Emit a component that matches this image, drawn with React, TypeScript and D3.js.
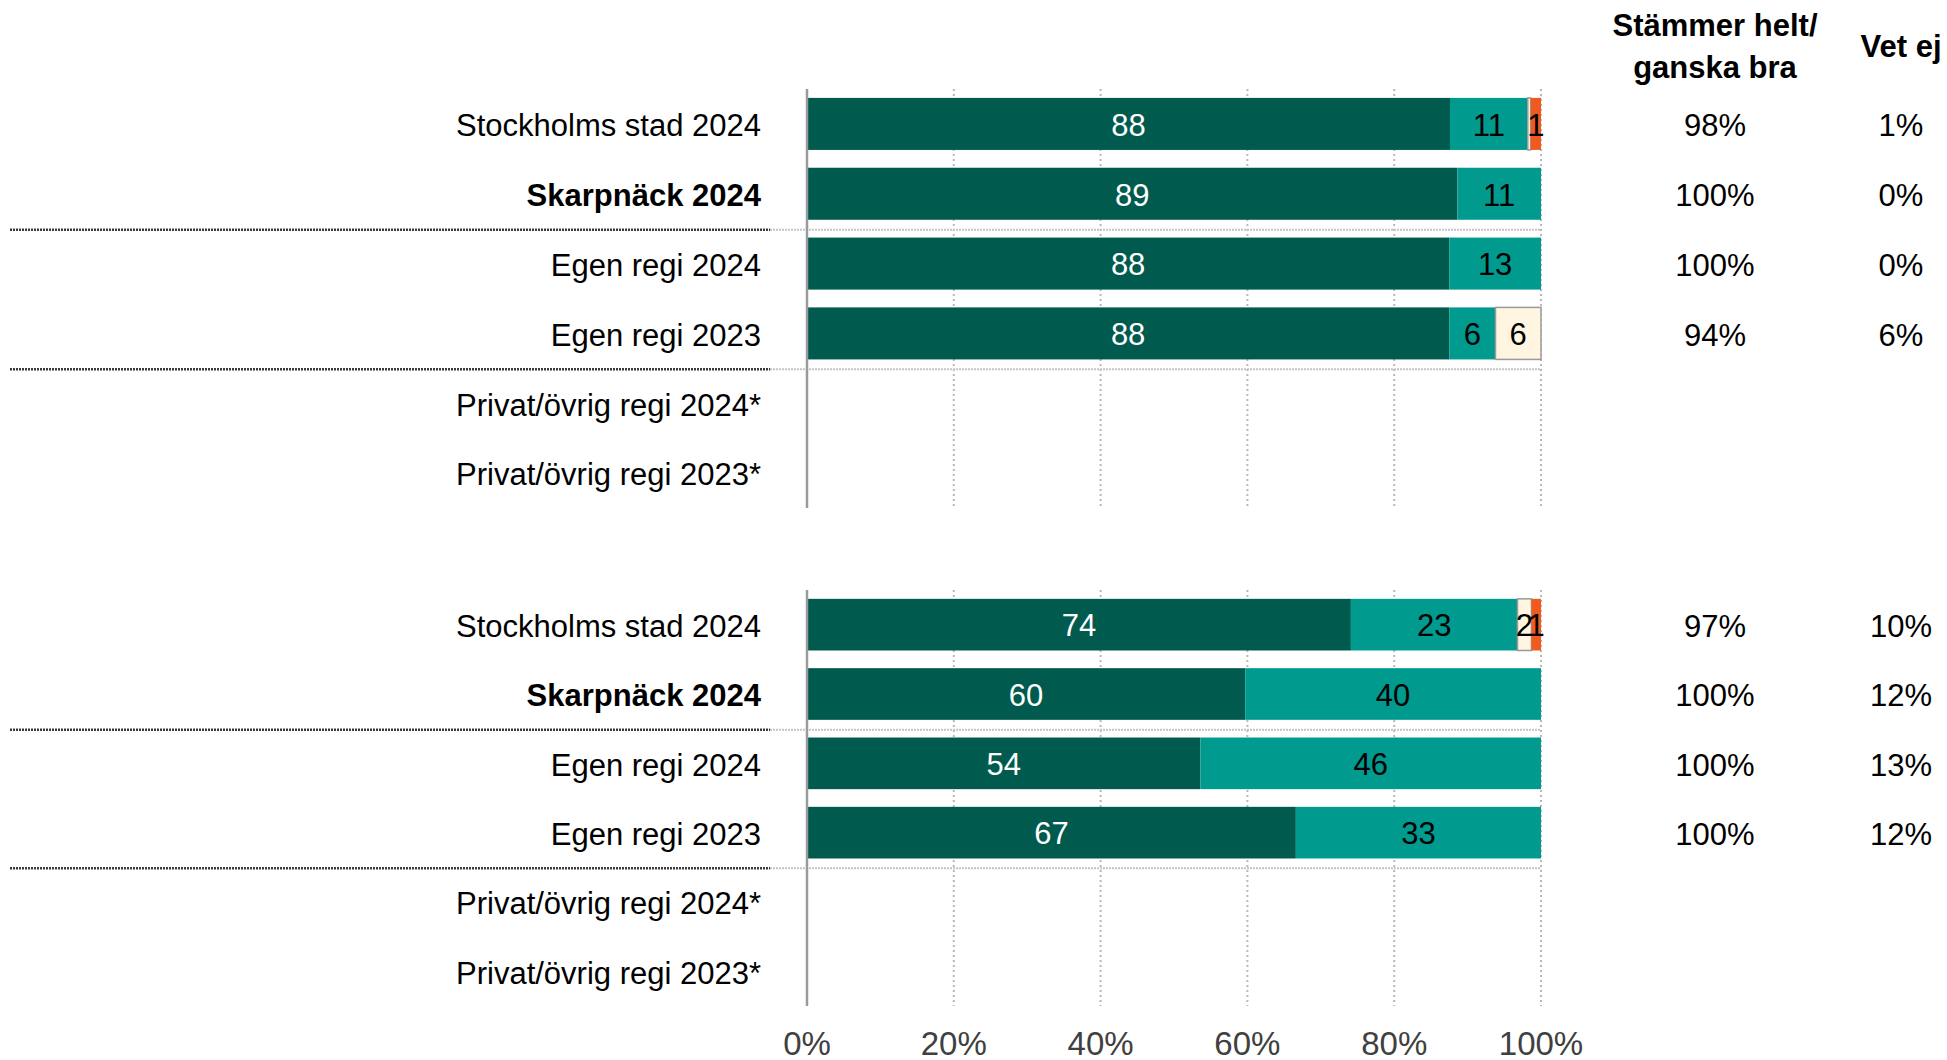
import React from "react";
import * as d3 from "d3";

const rowLabels = [
  "Stockholms stad 2024",
  "Skarpnäck 2024",
  "Egen regi 2024",
  "Egen regi 2023",
  "Privat/övrig regi 2024*",
  "Privat/övrig regi 2023*",
];
const boldRows = ["Skarpnäck 2024"];

// Group 1 values (percent) per category: helt, ganska bra, ganska dåligt, inte alls
const g1Helt = [87.6, 88.6, 87.5, 87.5, null, null];
const g1Ganska = [10.6, 11.4, 12.5, 6.3, null, null];
const g1Daligt = [0.4, 0, 0, 6.2, null, null];
const g1InteAlls = [1.4, 0, 0, 0, null, null];
const g1Stammer = ["98%", "100%", "100%", "94%", "", ""];
const g1VetEj = ["1%", "0%", "0%", "6%", "", ""];

// Group 2
const g2Helt = [74.1, 59.7, 53.6, 66.6, null, null];
const g2Ganska = [22.7, 40.3, 46.4, 33.4, null, null];
const g2Daligt = [1.9, 0, 0, 0, null, null];
const g2InteAlls = [1.3, 0, 0, 0, null, null];
const g2Stammer = ["97%", "100%", "100%", "100%", "", ""];
const g2VetEj = ["10%", "12%", "13%", "12%", "", ""];

const ticks = [0, 20, 40, 60, 80, 100];
const headerStammer = ["Stämmer helt/", "ganska bra"];
const headerVetEj = "Vet ej";

const colors = ["#005A4E", "#009A8E", "#FFF5E1", "#F05A1E"];
const textColors = ["#ffffff", "#000000", "#000000", "#000000"];

const W = 1947;
const H = 1060;
const FONT = "'Liberation Sans', Arial, sans-serif";

const x = d3.scaleLinear().domain([0, 100]).range([807, 1541]);

function Group({
  top,
  bottom,
  series,
  stammer,
  vetej,
}: {
  top: number;
  bottom: number;
  series: (number | null)[][];
  stammer: string[];
  vetej: string[];
}) {
  const pi = 0.255;
  const y = d3
    .scaleBand<string>()
    .domain(rowLabels)
    .range([top, bottom])
    .paddingInner(pi)
    .paddingOuter(pi / 2);
  const step = y.step();
  const bw = y.bandwidth();
  const sepAfter = [1, 3];
  return (
    <g>
      {ticks.slice(1).map((t) => (
        <line
          key={t}
          x1={x(t)}
          x2={x(t)}
          y1={top}
          y2={bottom}
          stroke="#b8b8b8"
          strokeWidth={2}
          strokeDasharray="2,3"
        />
      ))}
      {sepAfter.map((i) => {
        const yy = (y(rowLabels[i + 1]) as number) - (step * pi) / 2 + 1;
        return (
          <g key={i}>
            <line x1={10} x2={770} y1={yy} y2={yy} stroke="#3a3a3a" strokeWidth={2.5} strokeDasharray="2,1" />
            <line x1={770} x2={x(100)} y1={yy} y2={yy} stroke="#c4c4c4" strokeWidth={2} strokeDasharray="2,1" />
          </g>
        );
      })}
      {rowLabels.map((lab, i) => {
        const y0 = y(lab) as number;
        const cy = y0 + bw / 2;
        let acc = 0;
        const segs = series.map((s, k) => {
          const v = s[i];
          if (v == null || v <= 0) return null;
          const x0 = acc;
          acc += v;
          return (
            <g key={k}>
              <rect
                x={x(x0)}
                y={y0}
                width={x(x0 + v) - x(x0)}
                height={bw}
                fill={colors[k]}
                stroke={k === 2 ? "#9a9a9a" : "none"}
                strokeWidth={k === 2 ? 1.5 : 0}
              />
              {Math.round(v) >= 1 && (
                <text
                  x={(x(x0) + x(x0 + v)) / 2}
                  y={cy}
                  dy="0.38em"
                  textAnchor="middle"
                  fontSize={31}
                  fill={textColors[k]}
                  fontFamily={FONT}
                >
                  {Math.round(v)}
                </text>
              )}
            </g>
          );
        });
        return (
          <g key={lab}>
            <text
              x={761}
              y={cy}
              dy="0.4em"
              textAnchor="end"
              fontSize={31}
              fontWeight={boldRows.includes(lab) ? "bold" : "normal"}
              fontFamily={FONT}
              fill="#000"
            >
              {lab}
            </text>
            {segs}
            <text x={1715} y={cy} dy="0.4em" textAnchor="middle" fontSize={31} fontFamily={FONT} fill="#000">
              {stammer[i]}
            </text>
            <text x={1901} y={cy} dy="0.4em" textAnchor="middle" fontSize={31} fontFamily={FONT} fill="#000">
              {vetej[i]}
            </text>
          </g>
        );
      })}
      <line x1={x(0)} x2={x(0)} y1={top} y2={bottom} stroke="#9a9a9a" strokeWidth={2.5} />
    </g>
  );
}

export default function App() {
  return (
    <svg width={W} height={H} style={{ position: "absolute", left: 0, top: 0, background: "#fff" }}>
      <rect width={W} height={H} fill="#fff" />
      {headerStammer.map((t, i) => (
        <text
          key={t}
          x={1715}
          y={36 + i * 42}
          textAnchor="middle"
          fontSize={31}
          fontWeight="bold"
          fontFamily={FONT}
          fill="#000"
        >
          {t}
        </text>
      ))}
      <text x={1901} y={57} textAnchor="middle" fontSize={31} fontWeight="bold" fontFamily={FONT} fill="#000">
        {headerVetEj}
      </text>
      <Group
        top={89}
        bottom={508}
        series={[g1Helt, g1Ganska, g1Daligt, g1InteAlls]}
        stammer={g1Stammer}
        vetej={g1VetEj}
      />
      <Group
        top={590}
        bottom={1006}
        series={[g2Helt, g2Ganska, g2Daligt, g2InteAlls]}
        stammer={g2Stammer}
        vetej={g2VetEj}
      />
      {ticks.map((t) => (
        <text
          key={t}
          x={x(t)}
          y={1043}
          dy="0.36em"
          textAnchor="middle"
          fontSize={33}
          fontFamily="'Liberation Sans Narrow', 'Arial Narrow', sans-serif"
          fill="#404040"
        >
          {t}%
        </text>
      ))}
    </svg>
  );
}
